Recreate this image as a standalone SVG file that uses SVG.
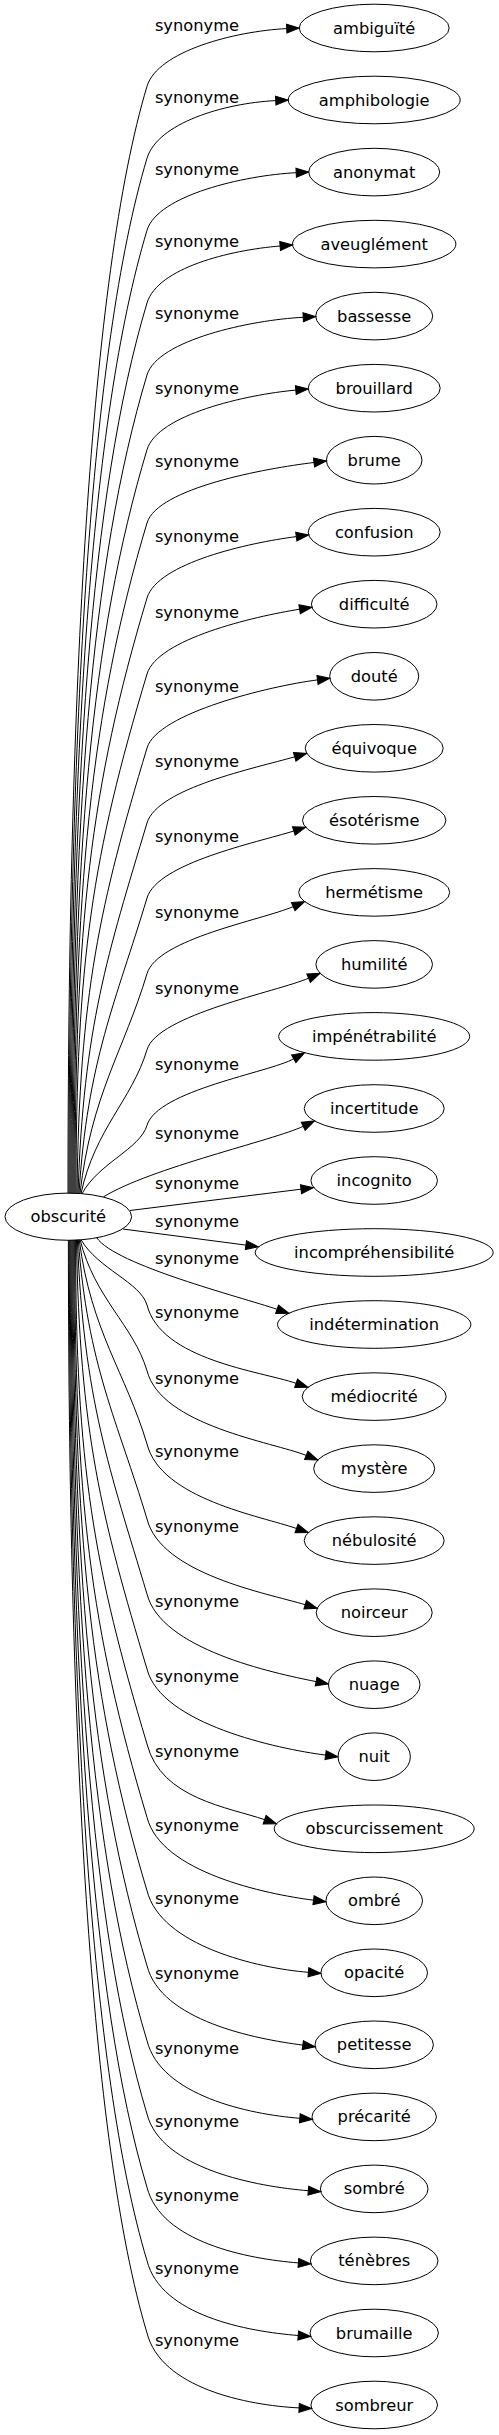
<svg xmlns="http://www.w3.org/2000/svg" width="499" height="2435" viewBox="0 0 499 2435">
<style>
text{font-family:"DejaVu Sans","Liberation Sans",sans-serif;font-size:16.3px;fill:#000}
.node text{text-anchor:middle}
.node ellipse{fill:none;stroke:#000;stroke-width:1}
#edges path{fill:none;stroke:#000;stroke-width:1;marker-end:url(#arr)}
#edges text{text-anchor:middle}
</style>
<defs>
<marker id="arr" viewBox="0 0 12.5 9" refX="0" refY="4.5" markerWidth="12.5" markerHeight="9" markerUnits="userSpaceOnUse" orient="auto" overflow="visible">
<path d="M0,0 L12.5,4.5 L0,9 z" fill="#000" stroke="#000" stroke-width="1"/>
</marker>
</defs>
<rect width="499" height="2435" fill="#fff"/>
<g id="edges">
<g id="e0"><path d="M68,1193.5 C68,695.3 90,276.3 147,86.3 C157.5,51.3 234.5,31.2 286.7,28.6"/><text x="197" y="30.6">synonyme</text></g>
<g id="e1"><path d="M69,1193.5 C69,727.7 90,348.3 147,158.3 C157.5,123.3 223.5,103.2 275.7,100.6"/><text x="197" y="102.6">synonyme</text></g>
<g id="e2"><path d="M70,1193.5 C70,760.1 90,420.3 147,230.3 C157.5,195.3 244,175.3 296.2,172.7"/><text x="197" y="174.6">synonyme</text></g>
<g id="e3"><path d="M71,1193.5 C71,792.8 90,493 147,303 C157.5,268 229.5,250.1 280.1,246"/><text x="197" y="247.3">synonyme</text></g>
<g id="e4"><path d="M72,1193.5 C72,825.2 90,565 147,375 C157.5,340 251,319.9 303.2,317.3"/><text x="197" y="319.3">synonyme</text></g>
<g id="e5"><path d="M73,1193.5 C73,858.8 90,639.7 147,449.7 C157.5,414.7 245.8,394.6 295.8,390.1"/><text x="197" y="394">synonyme</text></g>
<g id="e6"><path d="M74,1193.5 C74,891.8 90,713 147,523 C157.5,488 265.6,468.3 314,462.5"/><text x="197" y="467.3">synonyme</text></g>
<g id="e7"><path d="M75,1193.5 C75,925.5 90,788 147,598 C157.5,563 248.5,542.8 296.3,536.6"/><text x="197" y="542.3">synonyme</text></g>
<g id="e8"><path d="M76,1193.5 C76,959.7 92.5,855.8 147,674 C157.5,639 253.4,616.6 299.6,609.2"/><text x="197" y="618.3">synonyme</text></g>
<g id="e9"><path d="M77,1193.5 C79.3,993 100.2,903.9 147,748 C157.5,713 269.7,686.1 317.5,679.9"/><text x="197" y="692.3">synonyme</text></g>
<g id="e10"><path d="M78,1193.5 C83.4,1026.8 108.1,952.7 147,823 C157.5,788 255.7,768.1 294.7,756.8"/><text x="197" y="767.3">synonyme</text></g>
<g id="e11"><path d="M79,1193.5 C87.3,1060.5 116,1001.4 147,898 C157.5,863 255.9,842.8 293.8,831"/><text x="197" y="842.3">synonyme</text></g>
<g id="e12"><path d="M80,1193.5 C91.3,1094.6 123.9,1050.6 147,973.7 C157.5,938.7 261.9,920.1 293.2,906.6"/><text x="197" y="918">synonyme</text></g>
<g id="e13"><path d="M81,1193.6 C95.1,1128.8 131.9,1100 147,1049.7 C157.5,1014.7 277.3,991.7 308.6,978.2"/><text x="197" y="994">synonyme</text></g>
<g id="e14"><path d="M82,1193.7 C98.8,1162.8 139.8,1149.2 147,1125.3 C157.5,1090.3 269.5,1072.4 293.7,1058.8"/><text x="197" y="1069.6">synonyme</text></g>
<g id="e15"><path d="M103.3,1197 C150,1168 274.6,1140 303.2,1126.3"/><text x="197" y="1139">synonyme</text></g>
<g id="e16"><path d="M130,1210.5 L301,1189.2"/><text x="197" y="1189.3">synonyme</text></g>
<g id="e17"><path d="M123,1229 L245.9,1245.1"/><text x="197" y="1227.3">synonyme</text></g>
<g id="e18"><path d="M96.7,1237.7 C115,1265 240.8,1297 277.1,1309.3"/><text x="197" y="1264.3">synonyme</text></g>
<g id="e19"><path d="M81,1239.7 C98.2,1269.1 140.1,1282.1 147,1305 C161,1360 259.8,1371 296.1,1383.3"/><text x="197" y="1318.3">synonyme</text></g>
<g id="e20"><path d="M80.1,1239.7 C94.9,1298.7 133.2,1324.9 147,1370.7 C161,1425.7 273.2,1442.2 306.2,1455.4"/><text x="197" y="1384">synonyme</text></g>
<g id="e21"><path d="M79.2,1239.8 C91.2,1331.7 125.6,1372.5 147,1444 C161,1499 260.8,1516 296.5,1528.5"/><text x="197" y="1457.3">synonyme</text></g>
<g id="e22"><path d="M78.3,1239.8 C87.4,1365.4 117.7,1421.3 147,1519 C161,1574 266.7,1593.2 305.2,1604.7"/><text x="197" y="1532.3">synonyme</text></g>
<g id="e23"><path d="M77.4,1239.8 C83.5,1399.2 109.8,1470 147,1594 C161,1649 272.1,1672.8 316.1,1681.6"/><text x="197" y="1607.3">synonyme</text></g>
<g id="e24"><path d="M76.5,1239.9 C79.5,1432.9 101.9,1518.8 147,1669 C161,1724 277.8,1748.9 325.6,1755.1"/><text x="197" y="1682.3">synonyme</text></g>
<g id="e25"><path d="M75.6,1239.9 C75.6,1466.7 94.1,1567.5 147,1744 C161,1799 228.9,1807.2 264.6,1819.7"/><text x="197" y="1757.3">synonyme</text></g>
<g id="e26"><path d="M74.7,1240 C74.7,1499.7 90,1627.3 147,1817.3 C161,1872.3 265.7,1894 313.5,1900.2"/><text x="197" y="1830.6">synonyme</text></g>
<g id="e27"><path d="M73.8,1240 C73.8,1532.7 90,1700.7 147,1890.7 C161,1945.7 257.8,1968.3 308.4,1972.3"/><text x="197" y="1904">synonyme</text></g>
<g id="e28"><path d="M72.9,1240 C72.9,1566.5 90,1775.7 147,1965.7 C161,2020.7 255,2038.9 302.8,2045.1"/><text x="197" y="1979">synonyme</text></g>
<g id="e29"><path d="M72,1240.1 C72,1600.2 90,1850.7 147,2040.7 C161,2095.7 249.2,2114.3 299.8,2118.3"/><text x="197" y="2054">synonyme</text></g>
<g id="e30"><path d="M71.1,1240.1 C71.1,1633.2 90,1924 147,2114 C161,2169 257.7,2186.7 308.3,2190.7"/><text x="197" y="2127.3">synonyme</text></g>
<g id="e31"><path d="M70.2,1240.1 C70.2,1666.2 90,1997.3 147,2187.3 C161,2242.3 247.8,2258.9 298.4,2262.9"/><text x="197" y="2200.6">synonyme</text></g>
<g id="e32"><path d="M69.3,1240.2 C69.3,1699.2 90,2070.7 147,2260.7 C161,2315.7 247.6,2331.5 298.2,2335.5"/><text x="197" y="2274">synonyme</text></g>
<g id="e33"><path d="M68.4,1240.2 C68.4,1731.7 90,2143 147,2333 C161,2388 246.9,2405.3 299.1,2407.9"/><text x="197" y="2346.3">synonyme</text></g>
</g>
<g id="n_obscurite" class="node"><ellipse cx="68.3" cy="1216.7" rx="63.3" ry="23.6"/><text x="68.3" y="1222.2">obscurité</text></g>
<g id="n0" class="node"><ellipse cx="374.2" cy="28" rx="75" ry="23.8"/><text x="374.2" y="33.5">ambiguïté</text></g>
<g id="n1" class="node"><ellipse cx="374.2" cy="100" rx="86" ry="23.8"/><text x="374.2" y="105.5">amphibologie</text></g>
<g id="n2" class="node"><ellipse cx="374.2" cy="172.1" rx="65.5" ry="23.8"/><text x="374.2" y="177.6">anonymat</text></g>
<g id="n3" class="node"><ellipse cx="374.2" cy="244.1" rx="81.7" ry="23.8"/><text x="374.2" y="249.6">aveuglément</text></g>
<g id="n4" class="node"><ellipse cx="374.2" cy="316.1" rx="58.5" ry="23.8"/><text x="374.2" y="321.6">bassesse</text></g>
<g id="n5" class="node"><ellipse cx="374.2" cy="388.2" rx="66" ry="23.8"/><text x="374.2" y="393.7">brouillard</text></g>
<g id="n6" class="node"><ellipse cx="374.2" cy="460.2" rx="47.8" ry="23.8"/><text x="374.2" y="465.7">brume</text></g>
<g id="n7" class="node"><ellipse cx="374.2" cy="532.2" rx="66" ry="23.8"/><text x="374.2" y="537.7">confusion</text></g>
<g id="n8" class="node"><ellipse cx="374.2" cy="604.2" rx="62.8" ry="23.8"/><text x="374.2" y="609.7">difficulté</text></g>
<g id="n9" class="node"><ellipse cx="374.2" cy="676.3" rx="44.5" ry="23.8"/><text x="374.2" y="681.8">douté</text></g>
<g id="n10" class="node"><ellipse cx="374.2" cy="748.3" rx="69" ry="23.8"/><text x="374.2" y="753.8">équivoque</text></g>
<g id="n11" class="node"><ellipse cx="374.2" cy="820.3" rx="71.7" ry="23.8"/><text x="374.2" y="825.8">ésotérisme</text></g>
<g id="n12" class="node"><ellipse cx="374.2" cy="892.4" rx="75.5" ry="23.8"/><text x="374.2" y="897.9">hermétisme</text></g>
<g id="n13" class="node"><ellipse cx="374.2" cy="964.4" rx="58.3" ry="23.8"/><text x="374.2" y="969.9">humilité</text></g>
<g id="n14" class="node"><ellipse cx="374.2" cy="1036.4" rx="95.5" ry="23.8"/><text x="374.2" y="1041.9">impénétrabilité</text></g>
<g id="n15" class="node"><ellipse cx="374.2" cy="1108.5" rx="70" ry="23.8"/><text x="374.2" y="1114">incertitude</text></g>
<g id="n16" class="node"><ellipse cx="374.2" cy="1180.5" rx="63.3" ry="23.8"/><text x="374.2" y="1186">incognito</text></g>
<g id="n17" class="node"><ellipse cx="374.2" cy="1252.5" rx="119" ry="23.8"/><text x="374.2" y="1258">incompréhensibilité</text></g>
<g id="n18" class="node"><ellipse cx="374.2" cy="1324.5" rx="96.7" ry="23.8"/><text x="374.2" y="1330">indétermination</text></g>
<g id="n19" class="node"><ellipse cx="374.2" cy="1396.6" rx="72" ry="23.8"/><text x="374.2" y="1402.1">médiocrité</text></g>
<g id="n20" class="node"><ellipse cx="374.2" cy="1468.6" rx="60.5" ry="23.8"/><text x="374.2" y="1474.1">mystère</text></g>
<g id="n21" class="node"><ellipse cx="374.2" cy="1540.6" rx="70" ry="23.8"/><text x="374.2" y="1546.1">nébulosité</text></g>
<g id="n22" class="node"><ellipse cx="374.2" cy="1612.7" rx="58" ry="23.8"/><text x="374.2" y="1618.2">noirceur</text></g>
<g id="n23" class="node"><ellipse cx="374.2" cy="1684.7" rx="45.8" ry="23.8"/><text x="374.2" y="1690.2">nuage</text></g>
<g id="n24" class="node"><ellipse cx="374.2" cy="1756.7" rx="36.2" ry="23.8"/><text x="374.2" y="1762.2">nuit</text></g>
<g id="n25" class="node"><ellipse cx="374.2" cy="1828.8" rx="100" ry="23.8"/><text x="374.2" y="1834.3">obscurcissement</text></g>
<g id="n26" class="node"><ellipse cx="374.2" cy="1900.8" rx="48.3" ry="23.8"/><text x="374.2" y="1906.3">ombré</text></g>
<g id="n27" class="node"><ellipse cx="374.2" cy="1972.8" rx="53.3" ry="23.8"/><text x="374.2" y="1978.3">opacité</text></g>
<g id="n28" class="node"><ellipse cx="374.2" cy="2044.8" rx="59.2" ry="23.8"/><text x="374.2" y="2050.3">petitesse</text></g>
<g id="n29" class="node"><ellipse cx="374.2" cy="2116.9" rx="62.2" ry="23.8"/><text x="374.2" y="2122.4">précarité</text></g>
<g id="n30" class="node"><ellipse cx="374.2" cy="2188.9" rx="53.8" ry="23.8"/><text x="374.2" y="2194.4">sombré</text></g>
<g id="n31" class="node"><ellipse cx="374.2" cy="2260.9" rx="63.8" ry="23.8"/><text x="374.2" y="2266.4">ténèbres</text></g>
<g id="n32" class="node"><ellipse cx="374.2" cy="2333" rx="64.2" ry="23.8"/><text x="374.2" y="2338.5">brumaille</text></g>
<g id="n33" class="node"><ellipse cx="374.2" cy="2405" rx="63.3" ry="23.8"/><text x="374.2" y="2410.5">sombreur</text></g>
</svg>
